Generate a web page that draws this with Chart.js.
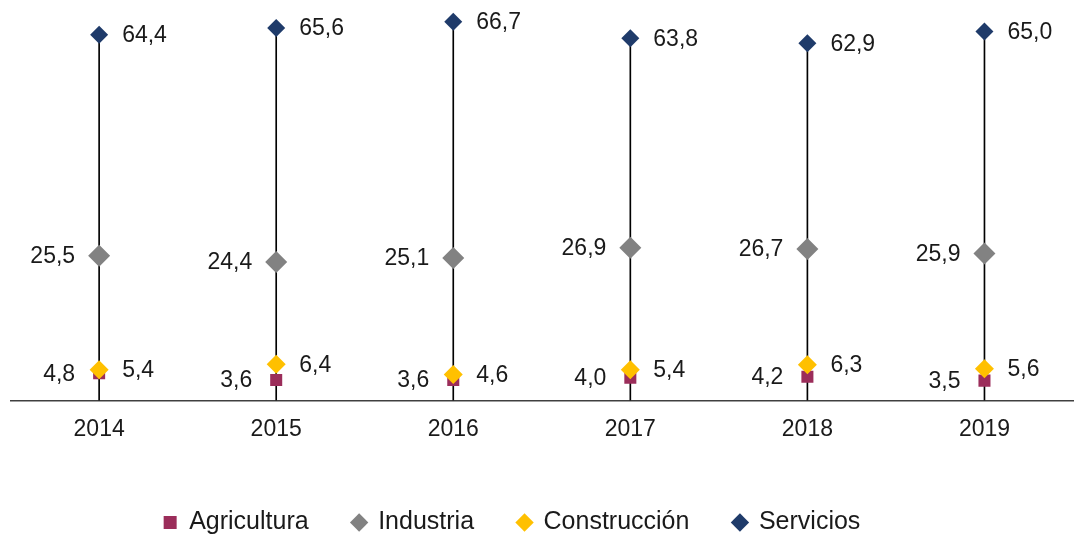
<!DOCTYPE html>
<html>
<head>
<meta charset="utf-8">
<script src="https://cdn.jsdelivr.net/npm/chart.js@4"></script>
<style>
  html, body { margin: 0; padding: 0; background: #fff; overflow: hidden; }
  #wrap { position: relative; left: -60px; width: 1144px; height: 534px; }
</style>
</head>
<body>
<div id="wrap"><canvas id="chart"></canvas></div>
<script>
const years = ['2014', '2015', '2016', '2017', '2018', '2019'];
const agricultura = [4.8, 3.6, 3.6, 4.0, 4.2, 3.5];
const industria = [25.5, 24.4, 25.1, 26.9, 26.7, 25.9];
const construccion = [5.4, 6.4, 4.6, 5.4, 6.3, 5.6];
const servicios = [64.4, 65.6, 66.7, 63.8, 62.9, 65.0];

const FONT = '"Liberation Sans", Arial, sans-serif';

// etiquetas de valor al lado de cada punto
const valueLabels = {
  id: 'valueLabels',
  afterDatasetsDraw(chart) {
    const ctx = chart.ctx;
    ctx.save();
    ctx.font = '23px ' + FONT;
    ctx.fillStyle = '#1a1a1a';
    ctx.textBaseline = 'middle';
    chart.data.datasets.forEach((ds, i) => {
      if (!ds.labelSide) return;
      chart.getDatasetMeta(i).data.forEach((pt, j) => {
        const txt = ds.data[j].toFixed(1).replace('.', ',');
        if (ds.labelSide === 'left') {
          ctx.textAlign = 'right';
          ctx.fillText(txt, pt.x - 24, pt.y + 1);
        } else {
          ctx.textAlign = 'left';
          ctx.fillText(txt, pt.x + 23, pt.y + 1);
        }
      });
    });
    ctx.restore();
  }
};

function points(label, data, color, style, radius, order, side) {
  return {
    type: 'line',
    label: label,
    data: data,
    showLine: false,
    pointStyle: style,
    pointRadius: radius,
    pointBackgroundColor: color,
    pointBorderColor: color,
    pointBorderWidth: 0,
    backgroundColor: color,
    borderColor: color,
    borderWidth: 0,
    order: order,
    labelSide: side
  };
}

new Chart(document.getElementById('chart'), {
  data: {
    labels: years,
    datasets: [
      points('Agricultura', agricultura, '#9b2d5a', 'rect', 8.5, 3, 'left'),
      points('Industria', industria, '#828282', 'rectRot', 11, 2, 'left'),
      points('Construcción', construccion, '#ffc000', 'rectRot', 9.5, 0, 'right'),
      points('Servicios', servicios, '#1f3b6a', 'rectRot', 9, 1, 'right'),
      {
        type: 'bar',
        label: '',
        data: servicios.map(v => [0, v]),
        backgroundColor: '#000',
        barThickness: 1,
        order: 5
      }
    ]
  },
  options: {
    responsive: true,
    maintainAspectRatio: false,
    animation: false,
    layout: { padding: { top: 3, left: 0, right: 0, bottom: 0 } },
    scales: {
      x: {
        offset: true,
        grid: { display: false, drawTicks: false },
        border: { display: true, color: '#404040', width: 1.5 },
        ticks: { color: '#1a1a1a', font: { family: FONT, size: 23 }, padding: 15 },
        afterFit: (s) => { s.height = 65.5; }
      },
      y: {
        min: 0,
        max: 68.6,
        grid: { display: false, drawTicks: false },
        border: { display: false },
        ticks: { display: false },
        afterFit: (s) => { s.width = 70.6; }
      }
    },
    plugins: {
      tooltip: { enabled: false },
      legend: {
        position: 'bottom',
        maxHeight: 68,
        labels: {
          usePointStyle: true,
          boxWidth: 13,
          boxHeight: 13,
          padding: 44,
          color: '#1a1a1a',
          font: { family: FONT, size: 25 },
          filter: (item) => item.text !== '',
          sort: (a, b) => a.datasetIndex - b.datasetIndex
        }
      }
    }
  },
  plugins: [valueLabels]
});
</script>
</body>
</html>
